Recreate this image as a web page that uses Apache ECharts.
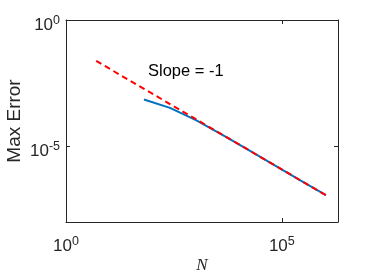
<!DOCTYPE html>
<html>
<head>
<meta charset="utf-8">
<script src="https://cdn.jsdelivr.net/npm/echarts@6/dist/echarts.min.js"></script>
<style>html,body{margin:0;padding:0;background:#fff}#c{width:374px;height:280px}</style>
</head>
<body>
<div id="c"></div>
<script>
// Data
const blueN   = [64, 256, 1024, 4096, 16384, 65536, 262144, 1048576];
const blueErr = [7.1e-4, 3.3e-4, 1.08e-4, 2.9e-5, 7.3e-6, 1.83e-6, 4.6e-7, 1.15e-7];
const refN    = [5, 1048576];
const refErr  = [0.024, 1.15e-7];
const xTickVals = [1, 1e5];
const yTickVals = [1e-5, 1];
const xTickExp = {1: '0', 100000: '5'};
const yTickExp = {1: '0', 0.00001: '-5'};

const font = 'Liberation Sans';
const axisColor = '#262626';

function sup(map) {
  return function (v) {
    let key = Object.keys(map).find(k => Math.abs(Math.log10(+k) - Math.log10(v)) < 1e-6);
    if (key === undefined) return '';
    return '{b|10}{s|' + map[key] + '}';
  };
}
const rich = {
  b: {fontSize: 17, fontFamily: font, color: axisColor, lineHeight: 20, verticalAlign: 'bottom'},
  s: {fontSize: 12.5, fontFamily: font, color: axisColor, lineHeight: 9, verticalAlign: 'top'}
};

const chart = echarts.init(document.getElementById('c'), null, {renderer: 'canvas'});
const lineAxis = {show: true, lineStyle: {color: axisColor, width: 1}};
chart.setOption({
  animation: false,
  backgroundColor: '#fff',
  grid: {left: 66, right: 36, top: 20, bottom: 58, containLabel: false, outerBoundsMode: 'none'},
  xAxis: [
    {
      type: 'log', logBase: 10, min: 1, max: 2e6, position: 'bottom',
      axisLine: lineAxis,
      axisTick: {show: true, inside: true, length: 4, customValues: xTickVals, lineStyle: {color: axisColor}},
      minorTick: {show: false},
      splitLine: {show: false},
      axisLabel: {customValues: xTickVals, formatter: sup(xTickExp), rich: rich, margin: 13},
      name: 'N', nameLocation: 'middle', nameGap: 35, nameMoveOverlap: false,
      nameTextStyle: {fontFamily: 'Liberation Serif', fontStyle: 'italic', fontSize: 17, color: axisColor}
    },
    {
      type: 'log', logBase: 10, min: 1, max: 2e6, position: 'top',
      axisLine: lineAxis,
      axisTick: {show: true, inside: true, length: 4, customValues: xTickVals, lineStyle: {color: axisColor}},
      axisLabel: {show: false}, splitLine: {show: false}
    }
  ],
  yAxis: [
    {
      type: 'log', logBase: 10, min: 1e-8, max: 1, position: 'left',
      axisLine: lineAxis,
      axisTick: {show: true, inside: true, length: 4, customValues: yTickVals, lineStyle: {color: axisColor}},
      minorTick: {show: false},
      splitLine: {show: false},
      axisLabel: {customValues: yTickVals, formatter: sup(yTickExp), rich: rich, margin: 6, padding: [8, 0, 0, 0]},
      name: 'Max Error', nameLocation: 'middle', nameGap: 42, nameMoveOverlap: false,
      nameTextStyle: {fontFamily: font, fontSize: 19, color: axisColor}
    },
    {
      type: 'log', logBase: 10, min: 1e-8, max: 1, position: 'right',
      axisLine: lineAxis,
      axisTick: {show: true, inside: true, length: 4, customValues: yTickVals, lineStyle: {color: axisColor}},
      axisLabel: {show: false}, splitLine: {show: false}
    }
  ],
  series: [
    {
      type: 'line', xAxisIndex: 0, yAxisIndex: 0, symbol: 'none', z: 2,
      data: blueN.map((n, i) => [n, blueErr[i]]),
      lineStyle: {color: '#0072BD', width: 2}
    },
    {
      type: 'line', xAxisIndex: 0, yAxisIndex: 0, symbol: 'none', z: 3,
      data: refN.map((n, i) => [n, refErr[i]]),
      lineStyle: {color: '#FF0000', width: 2, type: [6, 4]}
    }
  ],
  graphic: [
    {type: 'text', left: 148, top: 63, z: 10,
     style: {text: 'Slope = -1', font: '16.5px "Liberation Sans"', fill: '#000'}}
  ]
});
</script>
</body>
</html>
